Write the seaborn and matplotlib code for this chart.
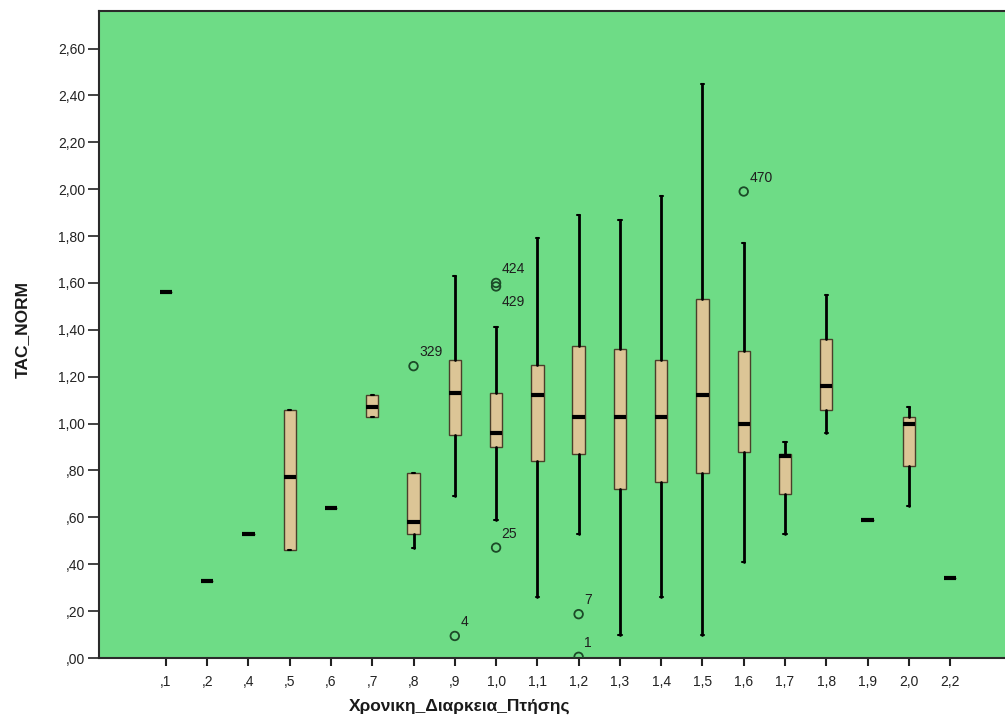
import matplotlib
matplotlib.use("Agg")
import matplotlib.pyplot as plt
import numpy as np
import pandas as pd
import seaborn as sns

# Flight duration categories (x axis)
categories = [",1", ",2", ",4", ",5", ",6", ",7", ",8", ",9", "1,0", "1,1",
              "1,2", "1,3", "1,4", "1,5", "1,6", "1,7", "1,8", "1,9", "2,0", "2,2"]

# Box statistics (TAC_NORM)
medians = [1.56, 0.33, 0.53, 0.77, 0.64, 1.07, 0.58, 1.13, 0.96, 1.12,
           1.03, 1.03, 1.03, 1.12, 1.00, 0.86, 1.16, 0.59, 1.00, 0.34]
q1 = [1.56, 0.33, 0.53, 0.46, 0.64, 1.03, 0.53, 0.95, 0.90, 0.84,
      0.87, 0.72, 0.75, 0.79, 0.88, 0.70, 1.06, 0.59, 0.82, 0.34]
q3 = [1.56, 0.33, 0.53, 1.06, 0.64, 1.12, 0.79, 1.27, 1.13, 1.25,
      1.33, 1.32, 1.27, 1.53, 1.31, 0.87, 1.36, 0.59, 1.03, 0.34]
whisker_low = [1.56, 0.33, 0.53, 0.46, 0.64, 1.03, 0.47, 0.69, 0.59, 0.26,
               0.53, 0.10, 0.26, 0.10, 0.41, 0.53, 0.96, 0.59, 0.65, 0.34]
whisker_high = [1.56, 0.33, 0.53, 1.06, 0.64, 1.12, 0.79, 1.63, 1.41, 1.79,
                1.89, 1.87, 1.97, 2.45, 1.77, 0.92, 1.55, 0.59, 1.07, 0.34]

# Outliers: category, value, case label
outlier_cat = [",8", ",9", "1,0", "1,0", "1,0", "1,2", "1,2", "1,6"]
outlier_val = [1.245, 0.094, 1.60, 1.585, 0.471, 0.187, 0.005, 1.99]
outlier_lab = ["329", "4", "424", "429", "25", "7", "1", "470"]

BG = "#6edc86"
BOX = "#dcc596"

sns.set_theme(style="ticks")
plt.rcParams["font.family"] = ["Liberation Sans", "DejaVu Sans"]

fig = plt.figure(figsize=(10.05, 7.27), dpi=100)
fig.patch.set_facecolor("white")
ax = fig.add_axes([99 / 1005, 1 - 658 / 727, 1 - 99 / 1005, (658 - 11) / 727])
ax.set_facecolor(BG)

# 1. Boxes from the summary statistics
stats = []
for i, cat in enumerate(categories):
    stats.append(dict(label=cat, med=medians[i], q1=q1[i], q3=q3[i],
                      whislo=whisker_low[i], whishi=whisker_high[i], fliers=[]))

ax.bxp(stats, positions=np.arange(len(categories)), widths=0.3,
       patch_artist=True, showfliers=False, capwidths=0.08,
       boxprops=dict(facecolor=BOX, edgecolor="#4a3f2a", linewidth=1.0),
       medianprops=dict(color="black", linewidth=3, solid_capstyle="butt"),
       whiskerprops=dict(color="black", linewidth=2),
       capprops=dict(color="black", linewidth=1.5))

# 2. Outliers
pos = {c: i for i, c in enumerate(categories)}
outliers = pd.DataFrame({"x": [pos[c] for c in outlier_cat],
                         "y": outlier_val, "label": outlier_lab})
sns.scatterplot(data=outliers, x="x", y="y", ax=ax, marker="o", s=38,
                facecolor="none", edgecolor="#1c4a28", linewidth=1.3,
                legend=False, zorder=5)

for _, row in outliers.iterrows():
    below = row["label"] == "429"
    ax.annotate(row["label"], xy=(row["x"], row["y"]),
                xytext=(4, -6 if below else 5), textcoords="offset points",
                ha="left", va="top" if below else "bottom",
                fontsize=10, color="#1e1e1e")

# 3. Axes formatting
ax.set_xlim(-1.62, 20.33)
ax.set_ylim(0, 2.76)
ax.set_xticks(np.arange(len(categories)))
ax.set_xticklabels(categories)
yticks = np.arange(0, 2.61, 0.2)
ylabels = []
for v in yticks:
    s = f"{v:.2f}".replace(".", ",")
    ylabels.append(s[1:] if s.startswith("0") else s)
ax.set_yticks(yticks)
ax.set_yticklabels(ylabels)
ax.set_xlabel("")
ax.set_ylabel("")
ax.tick_params(axis="x", length=6, width=1.5, pad=6, labelsize=10,
               colors="#222222")
ax.tick_params(axis="y", length=8, width=1.2, pad=2, labelsize=10,
               colors="#222222")
for side in ["left", "bottom", "top"]:
    ax.spines[side].set_color("#2a2a2a")
    ax.spines[side].set_linewidth(1.5)
ax.spines["right"].set_visible(False)

fig.text(460 / 1005, 1 - 706 / 727, "Χρονικη_Διαρκεια_Πτήσης",
         ha="center", va="center", fontsize=12.5, fontweight="bold",
         color="#1a1a1a")
fig.text(22 / 1005, 1 - 330 / 727, "TAC_NORM", rotation=90,
         ha="center", va="center", fontsize=12.5, fontweight="bold",
         color="#1a1a1a")

fig.savefig("out.png", dpi=100)
plt.close(fig)
